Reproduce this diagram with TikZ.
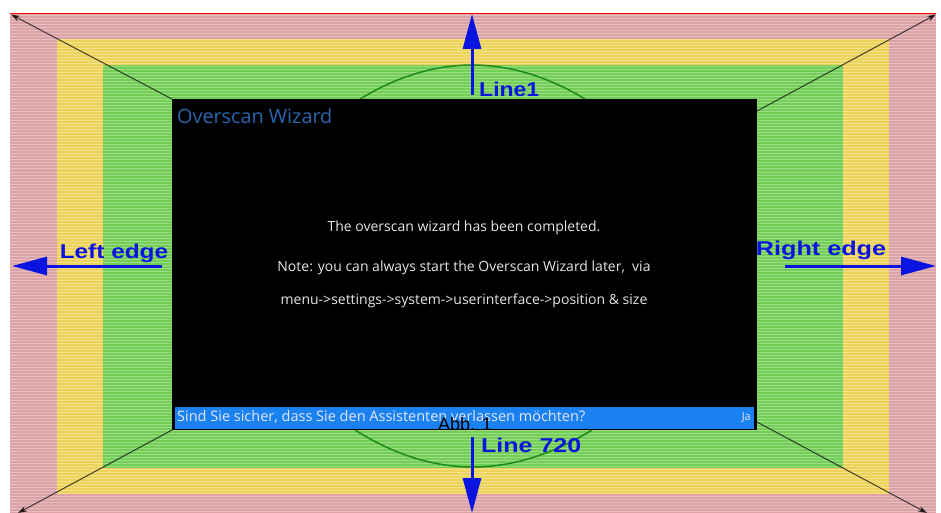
\documentclass[tikz,border=0pt]{standalone}
\usepackage{fontspec}
\usepackage{graphicx}
\setmainfont{Liberation Sans}
\newfontfamily\kodifont{Open Sans}
\usetikzlibrary{arrows.meta, positioning}

\definecolor{zonered}{HTML}{DCA3A7}
\definecolor{zoneyellow}{HTML}{EED35A}
\definecolor{zonegreen}{HTML}{72CE55}
\definecolor{arcgreen}{HTML}{1B8A1B}
\definecolor{markblue}{HTML}{0A14E0}
\definecolor{barblue}{HTML}{1A82F0}
\definecolor{titleblue}{HTML}{2A66B0}

\begin{document}
\begin{tikzpicture}[x=1pt, y=-1pt,
  marker/.style={markblue, line width=3pt, -{Triangle[length=35pt,width=18pt]}},
  mlabel/.style={text=markblue, inner sep=0pt,
    font=\fontsize{20}{20}\selectfont\bfseries},
  diag/.style={black, opacity=0.7, line width=1pt, -{Stealth[length=9pt,width=6pt]}},
  msg/.style={text=white!90!black, inner sep=0pt,
    font=\kodifont\fontsize{14}{16}\selectfont}]
  \useasboundingbox (0,0) rectangle (941,513);
  \fill[white] (0,0) rectangle (941,513);
  % overscan zones
  \fill[zonered] (10,14) rectangle (936,513);
  \fill[zoneyellow] (57,39) rectangle (889,494);
  \fill[zonegreen] (103,65) rectangle (843,468);
  \foreach \y in {16,19,...,512}
    \draw[white, opacity=0.3, line width=1pt] (10,\y) -- (936,\y);
  \draw[red, line width=1pt] (10,14) -- (936,14);

  % arcs
  \draw[arcgreen, line width=1.5pt] (360,99) .. controls (434.7,53.7) and (509.7,53.7) .. (585,99);
  \draw[arcgreen, line width=1.5pt] (355,430) .. controls (433,479.3) and (512,479.3) .. (592,430);

  % corner lines
  \coordinate (tl) at (11,14.5);
  \coordinate (tr) at (936,14.5);
  \coordinate (bl) at (18,513);
  \coordinate (br) at (927,513);
  \draw[diag] (172,99) -- (tl);
  \draw[diag] (757,111) -- (tr);
  \draw[diag] (172,430) -- (bl);
  \draw[diag] (757,422) -- (br);

  % dialog
  \node (box) [fill=black, minimum width=585pt, minimum height=331pt,
    inner sep=0pt, anchor=north west] at (172,99) {};
  \node (bar) [fill=barblue, minimum width=579pt, minimum height=22pt,
    inner sep=0pt, anchor=north west] at (175,407) {};
  \node (title) [anchor=west, inner sep=0pt, text=titleblue,
    font=\kodifont\fontsize{19.8}{22}\selectfont] at (177,116) {Overscan Wizard};
  \node (m1) [msg] at (464,228) {The overscan wizard has been completed.};
  \node (m2) [msg] at (464,268) {Note: you can always start the Overscan Wizard later,\ \ via};
  \node (m3) [msg] at (464,301) {menu->settings->system->userinterface->position \& size};
  \node (ask) [msg, anchor=west, text=blue!10!white,
    font=\kodifont\fontsize{14.5}{16}\selectfont] at (177,417)
    {Sind Sie sicher, dass Sie den Assistenten verlassen möchten?};
  \node (ja) [msg, anchor=east, text=blue!10!white,
    font=\kodifont\fontsize{11}{12}\selectfont] at (751,418) {Ja};

  % edge markers
  \coordinate (top0) at (472,95);
  \coordinate (top1) at (472,14);
  \coordinate (bot0) at (472,437);
  \coordinate (bot1) at (472,513);
  \coordinate (lft0) at (162,266);
  \coordinate (lft1) at (12,266);
  \coordinate (rgt0) at (785,266);
  \coordinate (rgt1) at (936,266);
  \draw[marker] (top0) -- (top1);
  \draw[marker] (bot0) -- (bot1);
  \draw[marker] (lft0) -- (lft1);
  \draw[marker] (rgt0) -- (rgt1);
  \node (line1) [mlabel, anchor=west] at (479,89) {\scalebox{1.15}[1]{Line1}};
  \node (line720) [mlabel, anchor=west] at (481,445) {\scalebox{1.25}[1]{Line 720}};
  \node (left) [mlabel] at (114,253) {\scalebox{1.22}[1]{Left edge}};
  \node (right) [mlabel] at (821,250) {\scalebox{1.26}[1]{Right edge}};

  \node (abb) [inner sep=0pt, font=\fontsize{18}{18}\selectfont] at (465,424) {Abb. 1};
\end{tikzpicture}
\end{document}
